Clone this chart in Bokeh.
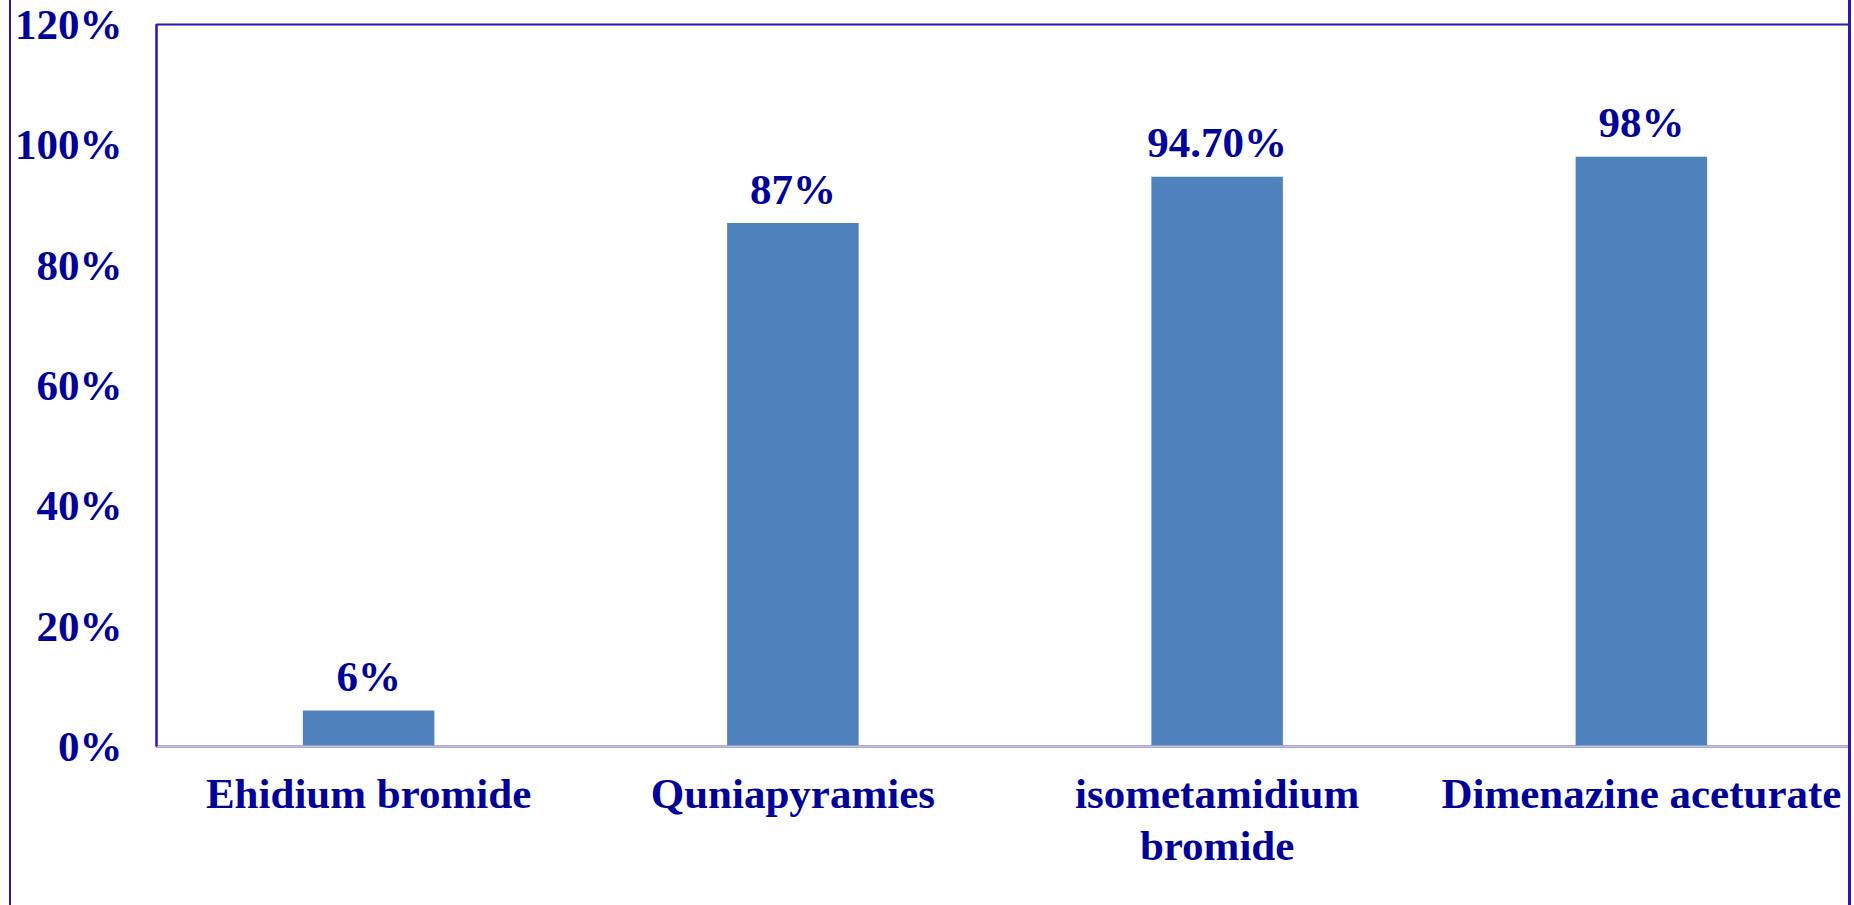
from bokeh.plotting import figure
from bokeh.models import ColumnDataSource, NumeralTickFormatter, FixedTicker, FactorRange, Range1d
from bokeh.core.properties import value
from bokeh.embed import file_html
from bokeh.resources import INLINE

categories = ["Ehidium bromide", "Quniapyramies", "isometamidium\nbromide", "Dimenazine aceturate"]
values = [0.06, 0.87, 0.947, 0.98]
value_labels = ["6%", "87%", "94.70%", "98%"]
y_ticks = [0, 0.2, 0.4, 0.6, 0.8, 1.0, 1.2]

TEXT = "#000099"
BORDER = "#2a17b1"
FONT = "Liberation Serif"

src = ColumnDataSource(dict(cat=categories, val=values, lab=value_labels))

p = figure(x_range=FactorRange(*categories, range_padding=0), y_range=Range1d(0, 1.2),
           width=1842, height=905, output_backend="svg", toolbar_location=None,
           min_border_left=145, min_border_right=0, min_border_top=24, min_border_bottom=159)
p.styles = {"margin-left": "9px", "border-left": f"2px solid {BORDER}",
            "border-right": f"3px solid {BORDER}", "box-sizing": "border-box"}

p.vbar(x="cat", top="val", width=0.31, source=src, fill_color="#4f81bd", line_color=None)
p.text(x="cat", y="val", text="lab", source=src, text_align="center", text_baseline="alphabetic",
       y_offset=-34, text_font=value(FONT), text_font_style="bold", text_font_size="43px",
       text_color=TEXT)

p.outline_line_color = BORDER
p.outline_line_width = 2
p.xgrid.grid_line_color = None
p.ygrid.grid_line_color = None
p.background_fill_color = "white"
p.border_fill_color = "white"

ya = p.yaxis[0]
ya.ticker = FixedTicker(ticks=y_ticks)
ya.formatter = NumeralTickFormatter(format="0%")
ya.axis_line_color = BORDER
ya.axis_line_width = 2
ya.major_tick_line_color = None
ya.major_tick_out = 0
ya.major_tick_in = 0
ya.minor_tick_line_color = None
ya.minor_tick_out = 0
ya.minor_tick_in = 0
ya.major_label_standoff = 34
ya.major_label_text_font = FONT
ya.major_label_text_font_style = "bold"
ya.major_label_text_font_size = "43px"
ya.major_label_text_color = TEXT

xa = p.xaxis[0]
xa.axis_line_color = "#c4c4d4"
xa.axis_line_width = 2
xa.major_tick_line_color = None
xa.major_tick_out = 0
xa.major_tick_in = 0
xa.minor_tick_line_color = None
xa.minor_tick_out = 0
xa.minor_tick_in = 0
xa.major_label_standoff = 23
xa.major_label_text_font = FONT
xa.major_label_text_font_style = "bold"
xa.major_label_text_font_size = "43px"
xa.major_label_text_color = TEXT
xa.major_label_text_line_height = 1.12

open("out.html", "w").write(file_html(p, INLINE))
